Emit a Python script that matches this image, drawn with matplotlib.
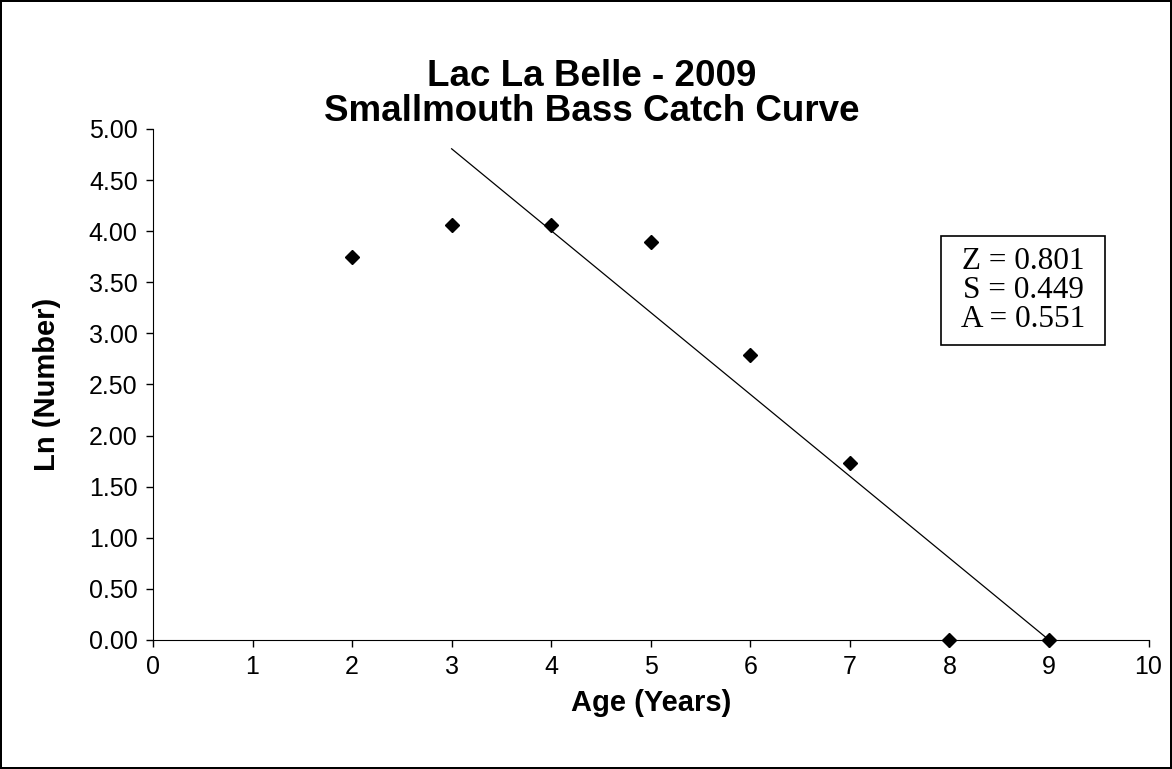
import numpy as np
import matplotlib.pyplot as plt
from matplotlib.patches import Rectangle

# catch curve data
ages = [2, 3, 4, 5, 6, 7, 8, 9]
ln_number = [3.75, 4.06, 4.06, 3.89, 2.79, 1.73, 0.00, 0.00]
# regression line over the descending limb
fit_x = [3, 9]
fit_intercept = 7.209
fit_slope = -0.801
stats_text = "Z = 0.801\nS = 0.449\nA = 0.551"

plt.rcParams['font.family'] = ['Liberation Sans', 'DejaVu Sans']

fig = plt.figure(figsize=(11.72, 7.69), dpi=100, edgecolor='black', linewidth=1.5)
ax = fig.add_axes([0.1305, 0.1678, 0.8495, 0.6645])

fx = np.array(fit_x)
ax.plot(fx, fit_intercept + fit_slope * fx, color='black', linewidth=0.9)
ax.plot(ages, ln_number, linestyle='none', marker='D', markersize=7.5,
        color='black', clip_on=False, zorder=3)

ax.set_xlim(0, 10)
ax.set_ylim(0, 5)
ax.set_xticks(range(0, 11))
ax.set_yticks(np.arange(0, 5.01, 0.5))
ax.set_yticklabels([f"{v:.2f}" for v in np.arange(0, 5.01, 0.5)])
ax.tick_params(direction='out', length=5, width=1, labelsize=18, pad=6)
ax.spines['top'].set_visible(False)
ax.spines['right'].set_visible(False)

ax.set_xlabel("Age (Years)", fontsize=21, fontweight='bold', labelpad=7)
ax.set_ylabel("Ln (Number)", fontsize=21, fontweight='bold', labelpad=20)
fig.suptitle("Lac La Belle - 2009\nSmallmouth Bass Catch Curve",
             fontsize=26.5, fontweight='bold', x=0.505, y=0.878, va='center', linespacing=1.0)

# stats box
ax.add_patch(Rectangle((0.792, 0.577), 0.164, 0.214, transform=ax.transAxes,
                       facecolor='white', edgecolor='black', linewidth=1.2, zorder=4))
ax.text(0.874, 0.684, stats_text, transform=ax.transAxes, ha='center', va='center',
        fontsize=22.5, family='Liberation Serif', linespacing=1.0, zorder=5)

fig.savefig("out.png", dpi=100)
